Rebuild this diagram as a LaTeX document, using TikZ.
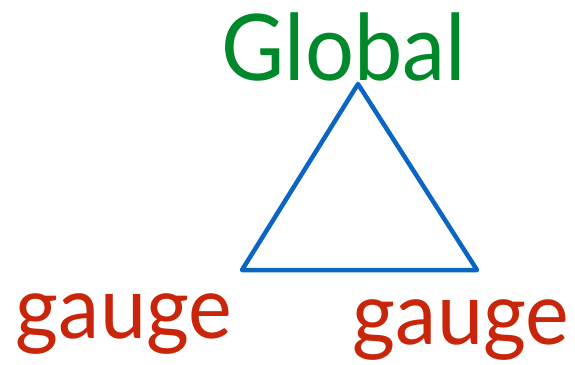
\documentclass[tikz,border=0pt]{standalone}
\usepackage{fontspec}
\setmainfont{Lato}
\definecolor{gGreen}{HTML}{00882B}
\definecolor{gRed}{HTML}{C8250A}
\definecolor{gBlue}{HTML}{0A66C2}
\begin{document}
\begin{tikzpicture}[x=1pt,y=-1pt,
  lbl/.style={inner sep=0pt,anchor=base},
  glob/.style={lbl,text=gGreen,font=\fontsize{92}{92}\selectfont,xscale=0.94},
  gau/.style={lbl,text=gRed,font=\fontsize{87}{87}\selectfont,xscale=0.95},
  tri/.style={draw=gBlue,line width=4.5pt,line join=round}]
\useasboundingbox (0,0) rectangle (575,364);
\coordinate (t) at (358,84);
\coordinate (bl) at (242,270);
\coordinate (br) at (477,270);
\draw[tri] (t) -- (bl) -- (br) -- cycle;
\node[glob] (global) at (344,80) {Global};
\node[gau] (gl) at (124,338) {gauge};
\node[gau] (gr) at (461,344) {gauge};
\end{tikzpicture}
\end{document}
